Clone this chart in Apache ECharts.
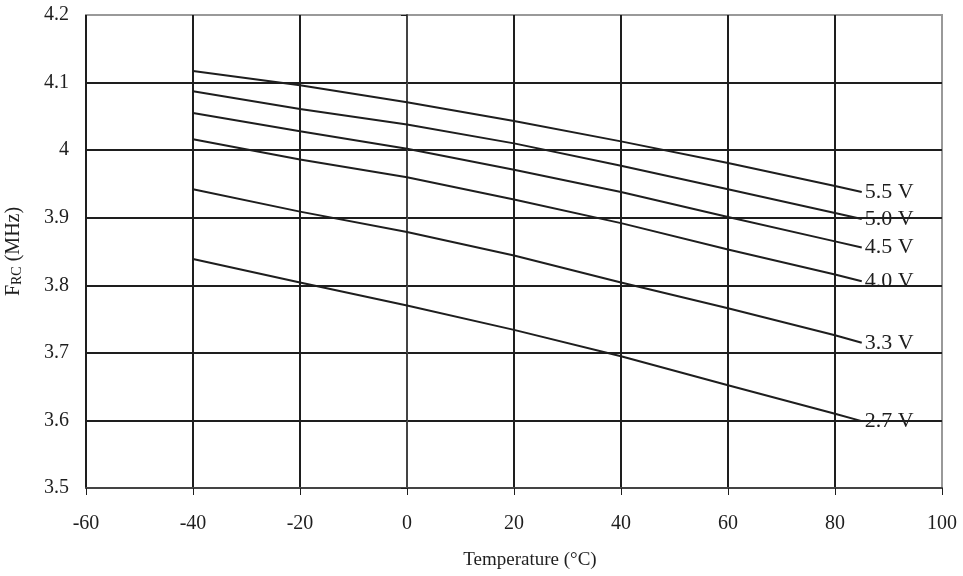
<!DOCTYPE html>
<html>
<head>
<meta charset="utf-8">
<script src="https://cdn.jsdelivr.net/npm/echarts@6/dist/echarts.min.js"></script>
<style>
    html, body { margin: 0; padding: 0; background: #fff; }
    #chart { width: 963px; height: 576px; }
</style>
</head>
<body>
<div id="chart"></div>
<script>
const temps = [-40, -20, 0, 20, 40, 60, 80, 85]
const labels = ['5.5 V', '5.0 V', '4.5 V', '4.0 V', '3.3 V', '2.7 V']
// F_RC (MHz) per supply voltage
const v55 = [4.117, 4.096, 4.071, 4.043, 4.013, 3.981, 3.947, 3.938]
const v50 = [4.087, 4.061, 4.038, 4.010, 3.977, 3.942, 3.907, 3.898]
const v45 = [4.055, 4.028, 4.002, 3.971, 3.938, 3.901, 3.865, 3.856]
const v40 = [4.016, 3.986, 3.960, 3.927, 3.892, 3.853, 3.816, 3.806]
const v33 = [3.942, 3.909, 3.879, 3.844, 3.804, 3.766, 3.726, 3.715]
const v27 = [3.839, 3.804, 3.770, 3.734, 3.695, 3.652, 3.610, 3.599]
const allSeries = [v55, v50, v45, v40, v33, v27]

const font = 'Liberation Serif'
const ink = '#1e1e1e'

const chart = echarts.init(document.getElementById('chart'))
chart.setOption({
    animation: false,
    backgroundColor: '#fff',
    grid: {
        left: 86,
        right: 21,
        top: 15,
        bottom: 88,
        outerBoundsMode: 'none',
        containLabel: false,
        show: true,
        borderColor: '#999',
        borderWidth: 2
    },
    xAxis: {
        type: 'value',
        min: -60,
        max: 100,
        interval: 20,
        name: 'Temperature (°C)',
        nameLocation: 'middle',
        nameGap: 63,
        nameTextStyle: { fontFamily: font, fontSize: 19, color: ink, padding: [0, 0, 0, 32] },
        axisLine: { lineStyle: { color: '#444', width: 2 } },
        axisTick: { show: true, length: 7, lineStyle: { color: ink, width: 1 } },
        axisLabel: { fontFamily: font, fontSize: 20, color: ink, margin: 26 },
        splitLine: { show: true, showMaxLine: false, lineStyle: { color: ink, width: 2 } }
    },
    yAxis: {
        type: 'value',
        min: 3.5,
        max: 4.2,
        interval: 0.1,
        name: '{a|F}{b|RC}{a| (MHz)}',
        nameLocation: 'middle',
        nameGap: 62,
        nameTextStyle: {
            rich: {
                a: { fontFamily: font, fontSize: 20, color: ink },
                b: { fontFamily: font, fontSize: 14, color: ink, verticalAlign: 'bottom', padding: [6, 0, 0, 0] }
            }
        },
        axisLine: { show: true, lineStyle: { color: '#444', width: 2 } },
        axisTick: { show: true, length: 6, lineStyle: { color: ink, width: 1 } },
        axisLabel: { fontFamily: font, fontSize: 20, color: ink, margin: 17 },
        splitLine: { show: true, showMaxLine: false, lineStyle: { color: ink, width: 2 } }
    },
    series: allSeries.map((vals, i) => ({
        name: labels[i],
        type: 'line',
        smooth: false,
        showSymbol: false,
        data: temps.map((t, j) => [t, vals[j]]),
        lineStyle: { color: ink, width: 2 },
        endLabel: {
            show: true,
            formatter: labels[i],
            fontFamily: font,
            fontSize: 22,
            color: ink,
            distance: 3
        },
        z: 3
    }))
})
</script>
</body>
</html>
